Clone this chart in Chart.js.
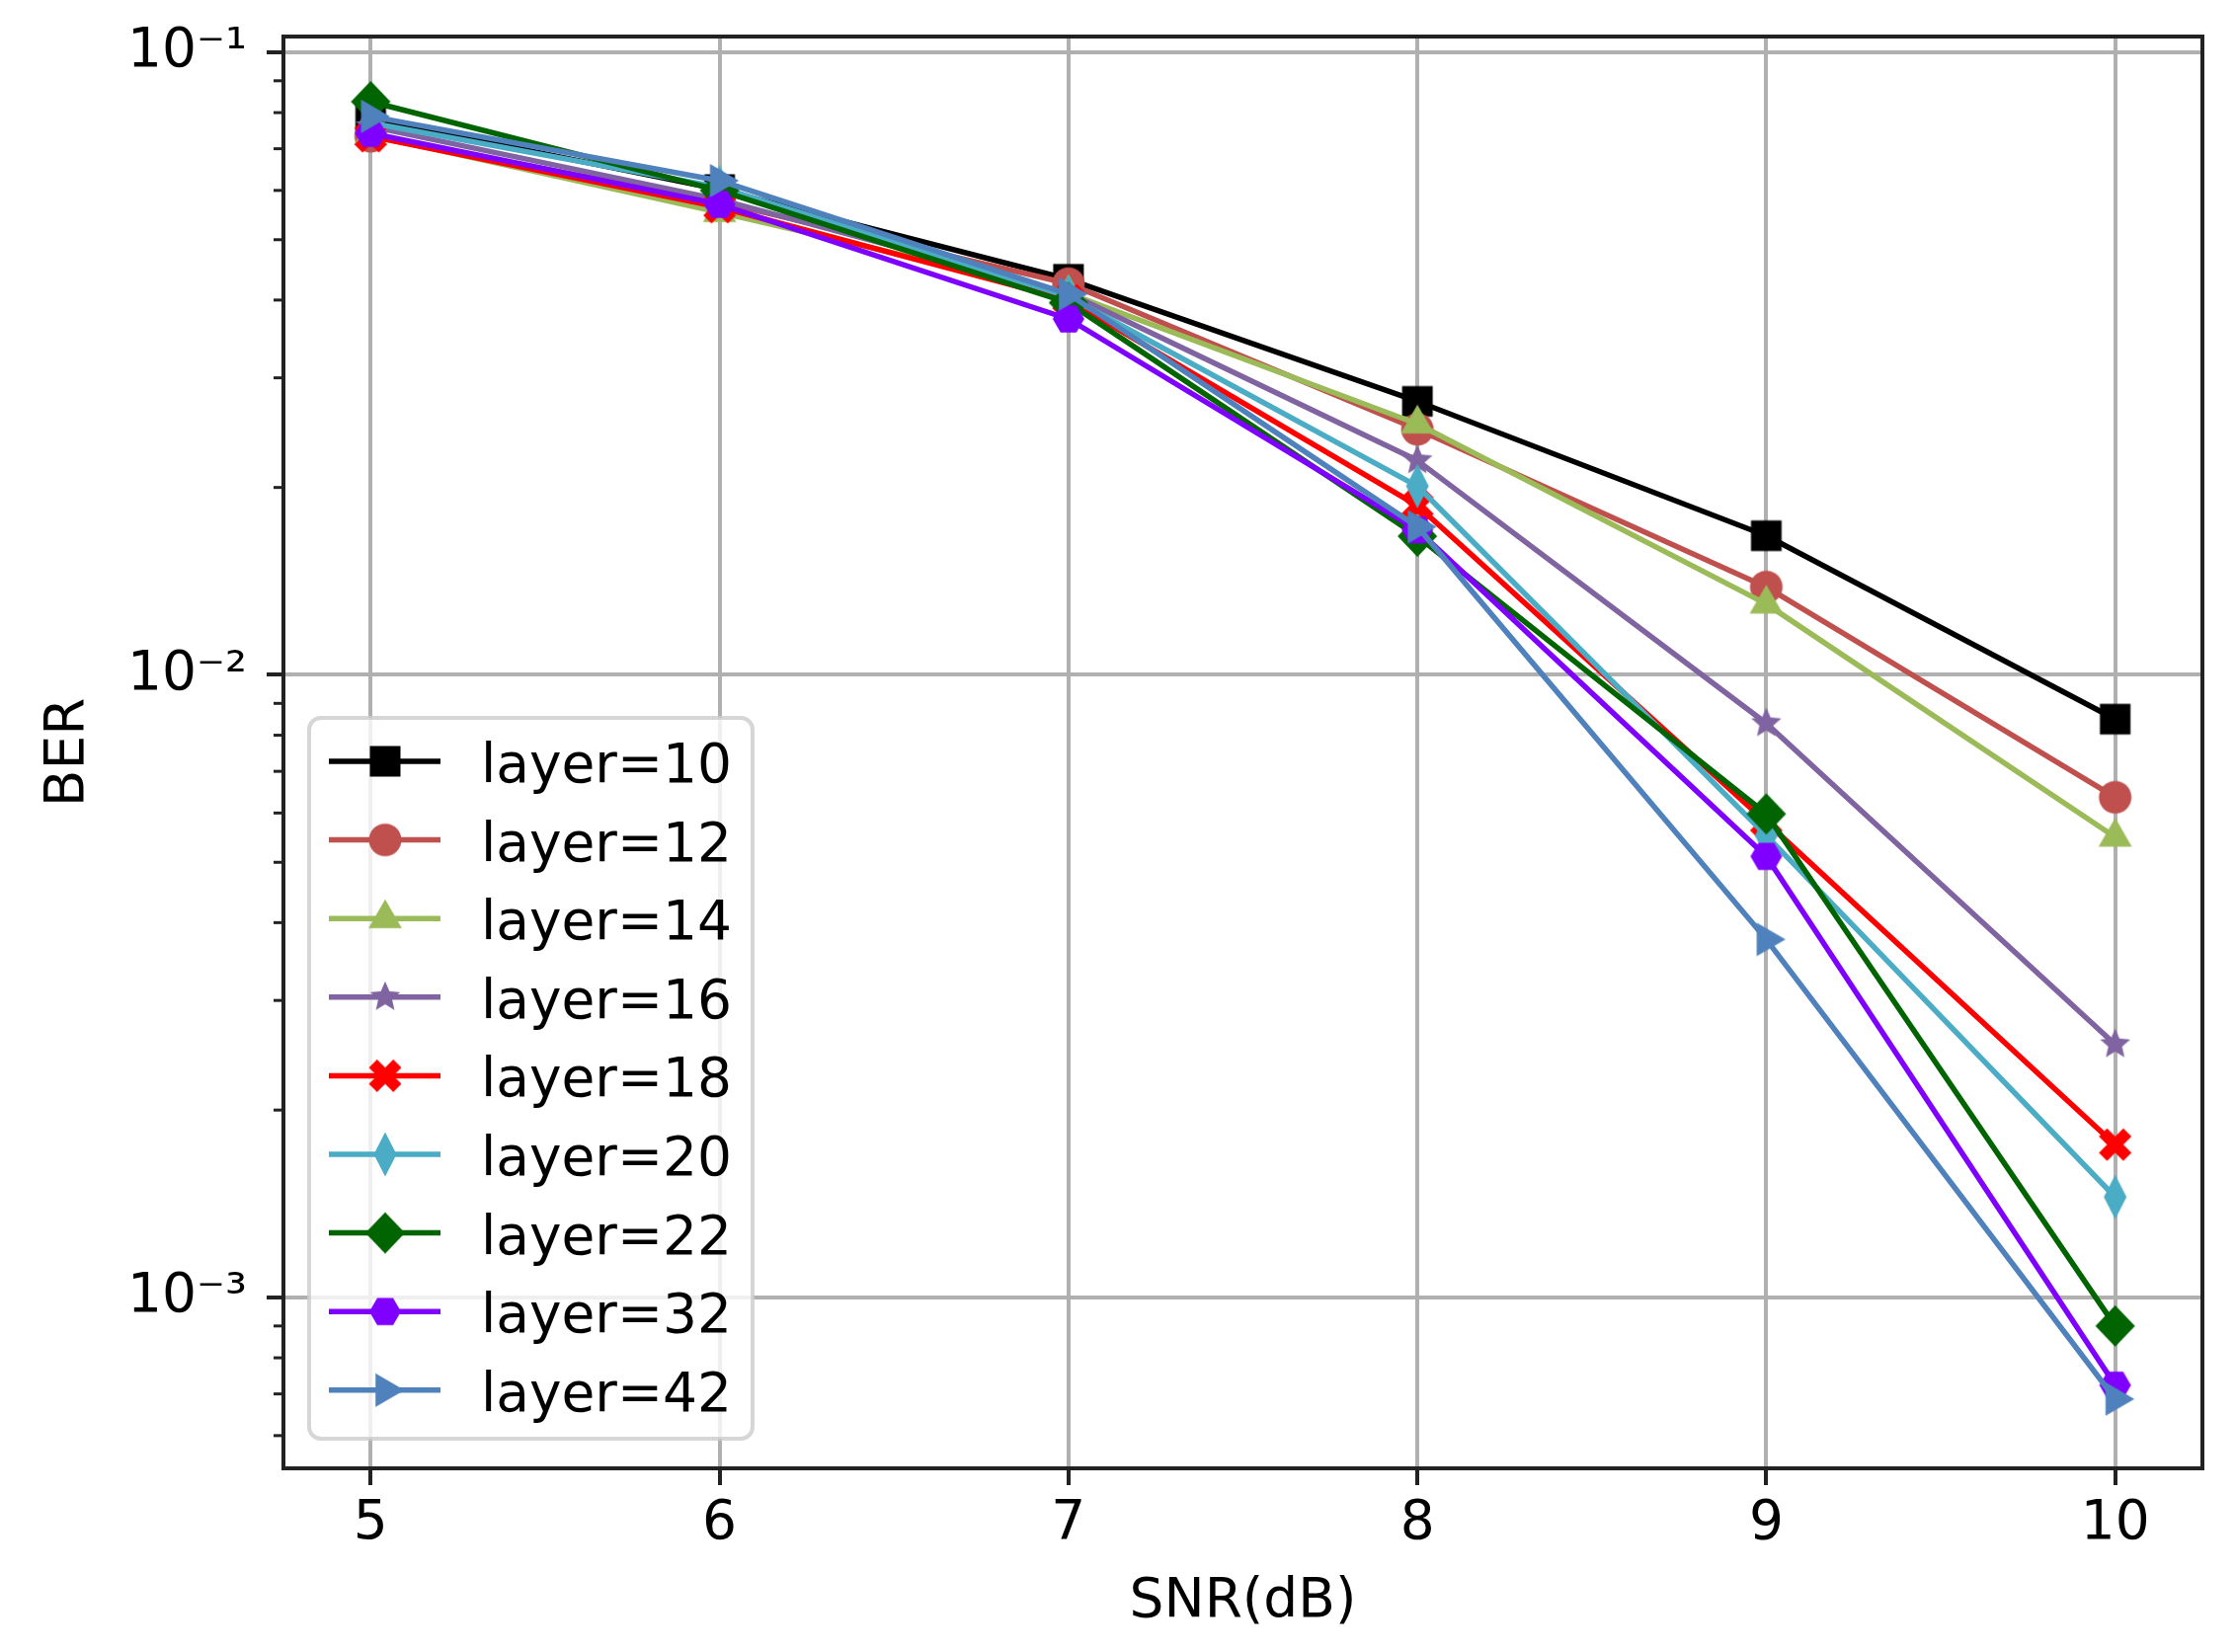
<!DOCTYPE html>
<html>
<head>
<meta charset="utf-8">
<script src="https://cdn.jsdelivr.net/npm/chart.js@4.4.0/dist/chart.umd.min.js"></script>
<style>
  html, body { margin: 0; padding: 0; background: #fff; }
  #wrap { width: 2263px; height: 1673px; }
</style>
</head>
<body>
<div id="wrap"><canvas id="chart-ber"></canvas></div>
<script>
const snr = [5, 6, 7, 8, 9, 10];

const layer10 = [0.0783, 0.0602, 0.0432, 0.0275, 0.01673, 0.00849];
const layer12 = [0.0733, 0.0575, 0.0425, 0.0248, 0.01384, 0.00636];
const layer14 = [0.0736, 0.0553, 0.0410, 0.0253, 0.0130, 0.00549];
const layer16 = [0.0760, 0.0580, 0.0410, 0.0221, 0.00836, 0.00255];
const layer18 = [0.0733, 0.0564, 0.0400, 0.0187, 0.0058, 0.00176];
const layer20 = [0.0770, 0.0607, 0.0405, 0.0201, 0.00552, 0.00145];
const layer22 = [0.0833, 0.0600, 0.0396, 0.0167, 0.00598, 0.000900];
const layer32 = [0.0741, 0.0570, 0.0373, 0.0171, 0.00511, 0.000723];
const layer42 = [0.0789, 0.0622, 0.0409, 0.0173, 0.00376, 0.000687];

const seriesNames = ['layer=10', 'layer=12', 'layer=14', 'layer=16', 'layer=18',
                     'layer=20', 'layer=22', 'layer=32', 'layer=42'];
const seriesValues = [layer10, layer12, layer14, layer16, layer18,
                      layer20, layer22, layer32, layer42];
const seriesColors = ['#000000', '#c0504d', '#9bbb59', '#8064a2', '#ff0000',
                      '#4bacc6', '#006400', '#8000ff', '#4f81bd'];
const seriesMarkers = ['square', 'circle', 'triUp', 'star', 'xFilled',
                       'thinDiamond', 'diamond', 'hexagon', 'triRight'];

const xTicks = [5, 6, 7, 8, 9, 10];
const yTicks = [0.001, 0.01, 0.1];
const yTickLabels = ['10⁻³', '10⁻²', '10⁻¹'];
const yMinorTicks = [0.0006, 0.0007, 0.0008, 0.0009,
                     0.002, 0.003, 0.004, 0.005, 0.006, 0.007, 0.008, 0.009,
                     0.02, 0.03, 0.04, 0.05, 0.06, 0.07, 0.08, 0.09];

const FONT = 'DejaVu Sans';
Chart.defaults.font.family = FONT;

// marker glyphs, drawn once into small canvases
const polygon = (g, pts) => {
  g.moveTo(pts[0][0], pts[0][1]);
  pts.slice(1).forEach(p => g.lineTo(p[0], p[1]));
};
const regular = (n, r, start) => {
  const pts = [];
  for (let k = 0; k < n; k++) {
    const a = start + k * 2 * Math.PI / n;
    pts.push([r * Math.cos(a), r * Math.sin(a)]);
  }
  return pts;
};

const markerCanvas = (shape, color) => {
  const c = document.createElement('canvas');
  c.width = 50; c.height = 50;
  const g = c.getContext('2d');
  g.translate(25, 25);
  g.fillStyle = color;
  g.beginPath();
  switch (shape) {
    case 'square':
      g.rect(-15.5, -15.5, 31, 31);
      break;
    case 'circle':
      g.arc(0, 0, 16.5, 0, 2 * Math.PI);
      break;
    case 'triUp':
      polygon(g, regular(3, 19.5, -Math.PI / 2));
      break;
    case 'triRight':
      polygon(g, regular(3, 19.5, 0));
      break;
    case 'hexagon':
      polygon(g, regular(6, 16, 0));
      break;
    case 'star': {
      const pts = [];
      for (let k = 0; k < 10; k++) {
        const r = k % 2 === 0 ? 16 : 16 * 0.46;
        const a = -Math.PI / 2 + k * Math.PI / 5;
        pts.push([r * Math.cos(a), r * Math.sin(a)]);
      }
      polygon(g, pts);
      break;
    }
    case 'xFilled': {
      const s = 35 / 6;
      const plus = [[-1, -3], [1, -3], [1, -1], [3, -1], [3, 1], [1, 1],
                    [1, 3], [-1, 3], [-1, 1], [-3, 1], [-3, -1], [-1, -1]];
      const r = Math.SQRT1_2;
      polygon(g, plus.map(([px, py]) => [(px - py) * r * s, (px + py) * r * s]));
      break;
    }
    case 'thinDiamond':
      polygon(g, [[0, -22.5], [11.5, 0], [0, 22.5], [-11.5, 0]]);
      break;
    case 'diamond':
      polygon(g, [[0, -21], [20, 0], [0, 21], [-20, 0]]);
      break;
  }
  g.closePath();
  g.fill();
  return c;
};

const markers = seriesMarkers.map((m, i) => markerCanvas(m, seriesColors[i]));

const datasets = seriesNames.map((name, i) => ({
  label: name,
  data: snr.map((x, j) => ({ x: x, y: seriesValues[i][j] })),
  borderColor: seriesColors[i],
  backgroundColor: seriesColors[i],
  borderWidth: 5.5,
  borderJoinStyle: 'round',
  pointStyle: markers[i],
  pointRadius: 16,
  pointHoverRadius: 16,
  tension: 0,
  order: -i
}));

// matplotlib style frame + minor ticks on the log axis
const axesFrame = {
  id: 'axesFrame',
  afterDatasetsDraw(chart) {
    const { ctx, chartArea: a, scales: { y } } = chart;
    ctx.save();
    ctx.strokeStyle = '#222';
    ctx.lineWidth = 3;
    yMinorTicks.forEach(v => {
      const py = y.getPixelForValue(v);
      ctx.beginPath();
      ctx.moveTo(a.left - 10, py);
      ctx.lineTo(a.left, py);
      ctx.stroke();
    });
    ctx.lineWidth = 4;
    ctx.strokeRect(a.left, a.top, a.right - a.left, a.bottom - a.top);
    ctx.restore();
  }
};

// legend box in the lower left of the plot
const boxLegend = {
  id: 'boxLegend',
  afterDraw(chart) {
    const { ctx, chartArea: a } = chart;
    const sets = chart.data.datasets;
    const rowH = 79.6;
    const left = a.left + 26;
    const bottom = a.bottom - 30;
    const top = bottom - 730;
    ctx.save();
    ctx.beginPath();
    ctx.roundRect(left, top, 449, 730, 12);
    ctx.fillStyle = 'rgba(255,255,255,0.8)';
    ctx.fill();
    ctx.strokeStyle = 'rgba(204,204,204,0.8)';
    ctx.lineWidth = 4;
    ctx.stroke();
    ctx.font = `55px "${FONT}"`;
    ctx.textBaseline = 'alphabetic';
    sets.forEach((ds, i) => {
      const cy = top + 44 + i * rowH;
      ctx.strokeStyle = ds.borderColor;
      ctx.lineWidth = 5.5;
      ctx.beginPath();
      ctx.moveTo(left + 20, cy);
      ctx.lineTo(left + 133, cy);
      ctx.stroke();
      const m = ds.pointStyle;
      ctx.drawImage(m, left + 77 - m.width / 2, cy - m.height / 2);
      ctx.fillStyle = '#000';
      ctx.fillText(ds.label, left + 174, cy + 21);
    });
    ctx.restore();
  }
};

const noEdgePadding = s => {
  s.paddingTop = 0; s.paddingBottom = 0;
  s.paddingLeft = 0; s.paddingRight = 0;
};

const ctx = document.getElementById('chart-ber');
new Chart(ctx, {
  type: 'line',
  data: { datasets: datasets },
  plugins: [axesFrame, boxLegend],
  options: {
    responsive: true,
    maintainAspectRatio: false,
    animation: false,
    devicePixelRatio: 1,
    layout: { padding: { top: 37, right: 33, left: 0, bottom: 0 } },
    plugins: {
      legend: { display: false },
      tooltip: { enabled: false }
    },
    scales: {
      x: {
        type: 'linear',
        min: 4.75,
        max: 10.25,
        afterBuildTicks: s => { s.ticks = xTicks.map(v => ({ value: v })); },
        afterFit: s => { s.height = 186; noEdgePadding(s); },
        ticks: { font: { size: 55 }, color: '#000', padding: 7, maxRotation: 0, autoSkip: false },
        grid: { color: '#b0b0b0', lineWidth: 4, tickLength: 17, tickColor: '#222', tickWidth: 4 },
        border: { display: false },
        title: { display: true, text: 'SNR(dB)', color: '#000', font: { size: 55 },
                 padding: { top: 0, bottom: 17 } }
      },
      y: {
        type: 'logarithmic',
        min: 5.316e-4,
        max: 0.106,
        afterBuildTicks: s => { s.ticks = yTicks.map(v => ({ value: v })); },
        afterFit: s => { s.width = 287; noEdgePadding(s); },
        ticks: { font: { size: 55 }, color: '#000', padding: 20, autoSkip: false,
                 callback: (v, i) => yTickLabels[i] },
        grid: { color: '#b0b0b0', lineWidth: 4, tickLength: 17, tickColor: '#222', tickWidth: 4 },
        border: { display: false },
        title: { display: true, text: 'BER', color: '#000', font: { size: 55 },
                 padding: { top: 37, bottom: 0 } }
      }
    }
  }
});
</script>
</body>
</html>
